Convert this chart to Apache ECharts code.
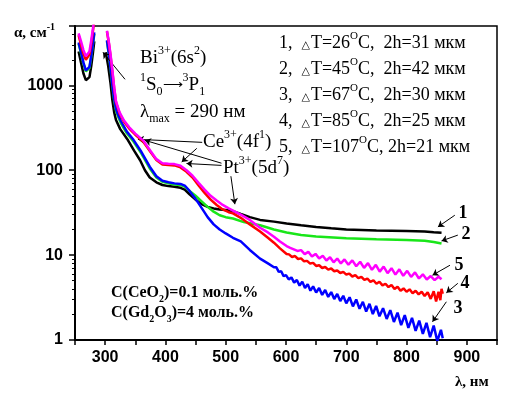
<!DOCTYPE html>
<html>
<head>
<meta charset="utf-8">
<script src="https://cdn.jsdelivr.net/npm/echarts@6/dist/echarts.min.js"></script>
<style>
  html, body { margin: 0; padding: 0; background: #fff; }
  #chart { width: 513px; height: 397px; }
</style>
</head>
<body>
<div id="chart"></div>
<script>
// [wavelength nm, alpha cm-1]; null breaks the line between the two measured ranges
const curve1 = [
  [256, 2500], [260, 1850], [264, 1380], [268, 1150], [271, 1100], [274, 1250], [277, 1700], [280, 2500], [282, 3300], [290, null],
  [301, 2450], [305, 1700], [309, 1050], [312, 665], [315, 480], [318, 390], [325, 305], [338, 225], [348, 170], [358, 131],
  [366, 100], [374, 82], [385, 72], [395, 67], [405, 65], [415, 64], [425, 62], [432, 59], [440, 52], [450, 45], [460, 40],
  [470, 37], [480, 35.5], [490, 34.5], [500, 34], [512, 33], [525, 30.5], [540, 28], [557, 26], [580, 24.8], [601, 23.6],
  [625, 22.5], [650, 21.5], [675, 20.7], [700, 20], [750, 19.5], [800, 19.2], [830, 19], [845, 18.6], [858, 18.3]
];
const curve2 = [
  [256, 3100], [260, 2380], [264, 1800], [268, 1460], [271, 1400], [274, 1600], [277, 2180], [280, 3100], [282, 4050], [290, null],
  [303, 3300], [306, 2350], [309, 1550], [312, 980], [315, 660], [318, 505], [322, 420], [326, 360], [336, 272], [347, 218],
  [360, 158], [374, 105], [385, 82], [395, 73], [405, 70], [415, 68], [425, 67], [432, 64], [440, 57], [450, 50], [460, 43],
  [470, 37], [480, 32.5], [490, 29.5], [500, 28], [512, 27], [530, 24.5], [557, 22.5], [580, 20], [601, 18.5], [625, 17.3],
  [650, 16.6], [700, 15.8], [750, 15.4], [800, 15.1], [830, 14.8], [845, 14.3], [858, 13.7]
];
const curve3 = [
  [256, 3200], [260, 2450], [264, 1850], [268, 1500], [271, 1440], [274, 1650], [277, 2250], [280, 3200], [282, 4200], [290, null],
  [303, 3400], [306, 2400], [309, 1600], [312, 1000], [315, 690], [318, 530], [322, 440], [326, 380], [336, 285], [347, 228],
  [360, 165], [374, 110], [385, 85], [395, 75], [405, 72], [415, 70], [425, 69], [432, 66], [440, 57], [450, 46], [460, 36],
  [470, 28], [480, 23], [490, 20], [500, 18], [512, 16], [525, 14.5], [540, 11.5], [557, 9.1], [570, 8],
  [580, 7.2], [584, 7.18], [588, 6.34], [592, 6.45], [596, 5.66], [600, 5.82], [604.5, 5.18], [609, 5.46], [613.5, 4.75],
  [618, 5.09], [622.5, 4.37], [627, 4.87], [631.5, 4.09], [636, 4.55], [640.5, 3.81], [645, 4.28], [650, 3.63], [655, 4.1],
  [660, 3.4], [665, 3.89], [670, 3.22], [675, 3.67], [680, 3.04], [685, 3.49], [690, 2.87], [695, 3.32], [700, 2.7],
  [705.5, 3.19], [711, 2.49], [716.5, 3.0], [722, 2.33], [727.5, 2.82], [733, 2.16], [738.5, 2.67], [744, 2.02], [749.5, 2.52],
  [755, 1.9], [761, 2.37], [767, 1.77], [773, 2.25], [779, 1.63], [785, 2.1], [791, 1.5], [797, 1.96], [803, 1.39],
  [809, 1.82], [815, 1.28], [821, 1.69], [827, 1.18], [833, 1.59], [839, 1.08], [845, 1.48], [851, 0.97], [857, 1.32], [860, 1.05]
];
const curve4 = [
  [256, 3900], [260, 3000], [264, 2350], [268, 2000], [271, 1970], [274, 2300], [277, 3100], [280, 4500], [282, 6000], [290, null],
  [303, 4300], [306, 3200], [309, 2200], [312, 1450], [315, 920], [318, 630], [324, 465], [331, 375], [340, 310], [350, 262],
  [363, 218], [375, 165], [385, 132], [395, 117], [405, 115], [415, 114], [425, 108], [435, 96], [445, 82], [455, 66],
  [465, 54], [475, 45], [485, 39], [495, 34.5], [505, 32], [512, 31], [525, 27.5], [540, 23], [557, 19], [570, 16], [580, 14],
  [590, 12], [601, 10.3], [605, 10.2], [610, 9.5], [615, 9.75], [620, 9.0], [625, 9.15], [630, 8.45], [635, 8.55], [640, 7.95],
  [645, 8.1], [650, 7.45], [655, 7.6], [660, 7.05], [665, 7.25], [670, 6.75], [675, 6.95], [680, 6.45], [685, 6.6], [690, 6.15],
  [695, 6.35], [700, 5.9], [705, 6.05], [710, 5.6], [715, 5.8], [720, 5.35], [725, 5.55], [730, 5.1], [735, 5.3], [740, 4.85],
  [745, 5.05], [750, 4.6], [755, 4.85], [760, 4.4], [765, 4.6], [770, 4.2], [775, 4.45], [780, 4.0], [785, 4.25], [790, 3.8],
  [795, 4.05], [800, 3.7], [805, 3.95], [810, 3.55], [815, 3.8], [820, 3.45], [825, 3.7], [830, 3.3], [835, 3.65], [840, 3.05],
  [845, 3.75], [849, 2.85], [853, 3.7], [856, 2.95], [858, 4.0], [860, 3.5]
];
const curve5 = [
  [256, 4100], [260, 3300], [264, 2600], [268, 2200], [271, 2140], [274, 2500], [277, 3400], [280, 4800], [282, 6500], [290, null],
  [303, 4400], [306, 3300], [309, 2300], [312, 1500], [315, 950], [318, 650], [324, 480], [331, 387], [340, 320], [350, 270],
  [363, 225], [375, 170], [385, 135], [395, 121], [405, 119], [415, 118], [425, 113], [435, 100], [445, 86], [455, 71],
  [465, 59], [475, 50], [485, 44], [495, 39], [505, 35.5], [512, 33.5], [525, 30], [540, 26], [557, 21], [570, 18.5],
  [580, 16.5], [590, 14.5], [601, 12.8], [607, 12.2], [613, 11.7], [619, 11.2], [625, 11.44], [631, 10.27], [637, 10.92],
  [643, 9.6], [649, 10.34], [655, 9.12], [661, 9.82], [667, 8.65], [673, 9.43], [679, 8.23], [685, 9.12], [691, 7.99],
  [697, 8.9], [703.5, 7.72], [710, 8.67], [716.5, 7.39], [723, 8.35], [729.5, 7.07], [736, 8.05], [742.5, 6.72], [749, 7.67],
  [755.5, 6.39], [762, 7.34], [768.5, 6.12], [775, 7.02], [781.5, 5.89], [788, 6.8], [794.5, 5.7], [801, 6.53], [807.5, 5.53],
  [814, 6.26], [820.5, 5.3], [827, 5.94], [833.5, 5.17], [840, 5.67], [846.5, 5.08], [853, 5.57], [858, 5.2]
];

const curveNames = ['1', '2', '3', '4', '5'];
const curveColors = ['#000000', '#19e619', '#0000ff', '#ff0000', '#ff00ff'];
const curves = [curve1, curve2, curve3, curve4, curve5];

const xTicks = { min: 250, max: 950, step: 50 };
const yTicks = { min: 1, max: 5000 };

// annotation arrows in data coordinates: [from, to]
const arrows = [
  [[333, 1177], [296.4, 2445]],   // Bi
  [[461, 213], [354.4, 231]],     // Ce -> shoulder
  [[452, 181], [427, 125]],       // Ce -> plateau
  [[493, 121], [366, 225]],       // Pt -> shoulder
  [[493, 114], [435, 120]],       // Pt -> plateau
  [[508.6, 85], [515.2, 39.8]],   // Pt -> 515 nm
  [[880, 29.5], [852, 21.5]],     // 1
  [[885, 17.2], [858, 14.7]],     // 2
  [[872, 7.6], [843, 5.8]],       // 5
  [[885, 4.65], [866, 3.6]],      // 4
  [[866, 2.82], [843, 1.64]]      // 3
];

const legendLines = [
  ['1,  ', 'T=26', 'C,  2h=31 мкм'],
  ['2,  ', 'T=45', 'C,  2h=42 мкм'],
  ['3,  ', 'T=67', 'C,  2h=30 мкм'],
  ['4,  ', 'T=85', 'C,  2h=25 мкм'],
  ['5,  ', 'T=107', 'C, 2h=21 мкм']
];

const serif = '"Liberation Serif", "Times New Roman", serif';
const chart = echarts.init(document.getElementById('chart'));

const series = curves.map((c, i) => ({
  name: curveNames[i],
  type: 'line',
  data: c,
  showSymbol: false,
  symbol: 'none',
  connectNulls: false,
  lineStyle: { color: curveColors[i], width: 2.5 },
  z: 2 + i
}));
series.push({
  type: 'line',
  data: [],
  z: 10,
  markLine: {
    silent: true,
    symbol: ['none', 'arrow'],
    symbolSize: 6,
    label: { show: false },
    lineStyle: { color: '#000', width: 1, type: 'solid' },
    emphasis: { disabled: true },
    data: arrows.map(a => [{ coord: a[0] }, { coord: a[1] }])
  }
});

const big = { fontSize: 19, fontFamily: serif, lineHeight: 26, verticalAlign: 'middle' };
const sup = { fontSize: 12, fontFamily: serif, lineHeight: 26, verticalAlign: 'top' };
const sub = { fontSize: 12, fontFamily: serif, lineHeight: 26, verticalAlign: 'bottom' };
function txt(x, y, text, rich) {
  return { type: 'text', x: x, y: y, z: 20, style: { text: text, fill: '#000', verticalAlign: 'middle', rich: rich } };
}
const richBig = { b: big, p: sup, d: sub, ar: { fontSize: 14, fontFamily: serif, lineHeight: 26, verticalAlign: 'middle' } };
const lg = { fontSize: 18, fontFamily: serif, lineHeight: 24, verticalAlign: 'middle' };
const richLeg = {
  l: lg,
  t: { fontSize: 11, fontFamily: '"DejaVu Sans", sans-serif', lineHeight: 24, verticalAlign: 'middle', padding: [5, 1, 0, 0] },
  o: { fontSize: 11, fontFamily: serif, lineHeight: 24, verticalAlign: 'top' }
};
const cb = { fontSize: 16, fontWeight: 'bold', fontFamily: serif, lineHeight: 22, verticalAlign: 'middle' };
const cs = { fontSize: 10, fontWeight: 'bold', fontFamily: serif, lineHeight: 22, verticalAlign: 'bottom' };
const cp = { fontSize: 10, fontWeight: 'bold', fontFamily: serif, lineHeight: 22, verticalAlign: 'top' };

const graphic = [
  txt(140, 58, '{b|Bi}{p|3+}{b|(6s}{p|2}{b|)}', richBig),
  txt(140, 85, '{p|1}{b|S}{d|0}{ar|⟶}{p|3}{b|P}{d|1}', richBig),
  txt(140, 112, '{b|λ}{d|max}{b| = 290 нм}', richBig),
  txt(203, 142, '{b|Ce}{p|3+}{b|(4f}{p|1}{b|)}', richBig),
  txt(223, 168, '{b|Pt}{p|3+}{b|(5d}{p|7}{b|)}', richBig),
  txt(111, 293, '{c|C(CeO}{s|2}{c|)=0.1 моль.%}', { c: cb, s: cs }),
  txt(111, 313, '{c|C(Gd}{s|2}{c|O}{s|3}{c|)=4 моль.%}', { c: cb, s: cs }),
  txt(14, 33, '{c|α, см}{p|-1}', { c: { ...cb, fontSize: 15 }, p: cp }),
  txt(455, 382, '{c|λ, нм}', { c: { ...cb, fontSize: 15 } })
];
legendLines.forEach((l, i) => {
  graphic.push(txt(279, 43 + i * 26, '{l|' + l[0] + '}{t|△}{l|' + l[1] + '}{o|O}{l|' + l[2] + '}', richLeg));
});
const curveLabelPos = [[463, 213], [466, 234], [458, 308], [465, 283], [459, 265]];
curveLabelPos.forEach((p, i) => {
  graphic.push({
    type: 'text', x: p[0], y: p[1], z: 20,
    style: { text: curveNames[i], fill: '#000', font: 'bold 18px ' + serif, align: 'center', verticalAlign: 'middle' }
  });
});

chart.setOption({
  animation: false,
  backgroundColor: '#fff',
  grid: { left: 75, right: 16, top: 26, bottom: 57, show: true, borderColor: '#000', borderWidth: 1.5 },
  xAxis: {
    type: 'value',
    min: xTicks.min,
    max: xTicks.max,
    interval: xTicks.step,
    axisLine: { lineStyle: { color: '#000', width: 2 } },
    axisTick: { length: 5, lineStyle: { color: '#000', width: 1.5 } },
    splitLine: { show: false },
    axisLabel: {
      color: '#000', fontSize: 16, fontWeight: 'bold', fontFamily: '"Liberation Sans", Arial, sans-serif', margin: 10,
      formatter: v => (v % 100 === 0 ? String(v) : '')
    }
  },
  yAxis: {
    type: 'log',
    logBase: 10,
    min: yTicks.min,
    max: yTicks.max,
    axisLine: { lineStyle: { color: '#000', width: 2 } },
    axisTick: { length: 6, lineStyle: { color: '#000', width: 1.5 } },
    minorTick: { show: true, splitNumber: 9, length: 3, lineStyle: { color: '#000', width: 1 } },
    splitLine: { show: false },
    axisLabel: {
      color: '#000', fontSize: 16, fontWeight: 'bold', fontFamily: '"Liberation Sans", Arial, sans-serif', margin: 12,
      showMaxLabel: false,
      formatter: v => String(Math.round(v))
    }
  },
  series: series,
  graphic: graphic
});
</script>
</body>
</html>
